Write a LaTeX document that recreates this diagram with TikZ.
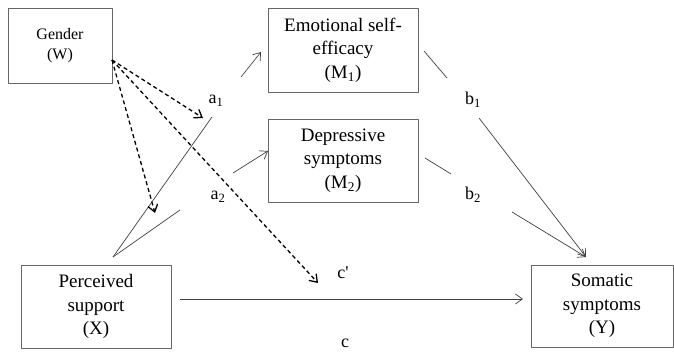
\documentclass[tikz,border=0pt]{standalone}
\usepackage{fontspec}
\setmainfont{Liberation Serif}
\usetikzlibrary{arrows.meta}
\tikzset{
  varbox/.style={draw=black!60,line width=0.9bp,inner sep=0pt,align=center,font=\fontsize{19bp}{23.5bp}\selectfont},
  link/.style={black!75,line width=0.7bp},
  moder/.style={black,line width=1.3bp,dash pattern=on 4bp off 3bp},
  coef/.style={inner sep=0pt,font=\fontsize{18bp}{20bp}\selectfont},
}
\begin{document}
\begin{tikzpicture}[>={Straight Barb[length=7bp,width=10bp]},line join=bevel,]
\useasboundingbox (0bp,0bp) rectangle (674bp,352bp);
%%
\node (gender) at (60.0bp,306.5bp) [varbox,minimum width=104bp,minimum height=75bp,font=\fontsize{16bp}{20bp}\selectfont] {Gender\\(W)};
  \node (emotion) at (343.0bp,302.0bp) [varbox,minimum width=150bp,minimum height=84bp] {Emotional self-\\efficacy\\(M\textsubscript{1})};
  \node (depress) at (343.0bp,191.5bp) [varbox,minimum width=150bp,minimum height=83bp] {Depressive\\symptoms\\(M\textsubscript{2})};
  \node (support) at (96.0bp,45.5bp) [varbox,minimum width=150bp,minimum height=83bp] {Perceived\\support\\(X)};
  \node (somatic) at (602.0bp,46.0bp) [varbox,minimum width=142bp,minimum height=82bp] {Somatic\\symptoms\\(Y)};
%
  \node (a_1) at (216.0bp,251.0bp) [coef] {a\textsubscript{1}};
  \node (a_2) at (218.0bp,155.0bp) [coef] {a\textsubscript{2}};
  \node (b_1) at (473.0bp,252.0bp) [coef] {b\textsubscript{1}};
  \node (b_2) at (473.0bp,157.0bp) [coef] {b\textsubscript{2}};
  \node (c_p) at (343.0bp,79.0bp) [coef] {c\textquotesingle};
  \node (c_0) at (345.0bp,9.0bp) [coef] {c};
%
  \coordinate (x_out) at (113.0bp,95.0bp);
  \coordinate (a_1lo) at (212.0bp,235.0bp);
  \coordinate (a_1hi) at (241.0bp,275.0bp);
  \coordinate (m_1in) at (261.0bp,300.0bp);
  \coordinate (a_2lo) at (180.0bp,142.0bp);
  \coordinate (a_2hi) at (233.0bp,179.0bp);
  \coordinate (m_2in) at (268.0bp,201.0bp);
  \coordinate (m_1out) at (424.0bp,301.0bp);
  \coordinate (b_1hi) at (447.0bp,274.0bp);
  \coordinate (b_1lo) at (479.0bp,234.0bp);
  \coordinate (m_2out) at (425.0bp,194.0bp);
  \coordinate (b_2hi) at (451.0bp,178.0bp);
  \coordinate (b_2lo) at (512.0bp,140.0bp);
  \coordinate (y_in) at (586.0bp,95.0bp);
  \coordinate (c_start) at (180.0bp,53.0bp);
  \coordinate (c_end) at (523.0bp,53.0bp);
  \coordinate (w_out) at (112.0bp,292.0bp);
  \coordinate (w_a1) at (203.0bp,234.0bp);
  \coordinate (w_a2) at (155.0bp,139.0bp);
  \coordinate (w_c) at (318.0bp,69.0bp);
%
  \draw [link] (x_out) -- (a_1lo);
  \draw [link,->] (a_1hi) -- (m_1in);
  \draw [link] (x_out) -- (a_2lo);
  \draw [link,->] (a_2hi) -- (m_2in);
  \draw [link] (m_1out) -- (b_1hi);
  \draw [link,->] (b_1lo) -- (y_in);
  \draw [link] (m_2out) -- (b_2hi);
  \draw [link,->] (b_2lo) -- (y_in);
  \draw [link,->] (c_start) -- (c_end);
%
  \draw [moder,->] (w_out) -- (w_a1);
  \draw [moder,->] (w_out) -- (w_a2);
  \draw [moder,->] (w_out) -- (w_c);
%
\end{tikzpicture}
\end{document}
